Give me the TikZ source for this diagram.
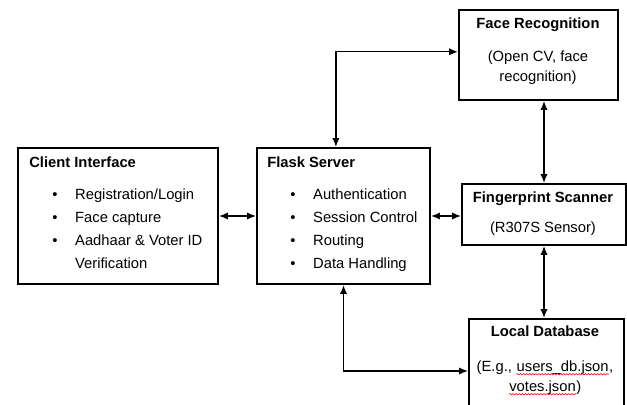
\documentclass[tikz,border=0pt]{standalone}
\usepackage{fontspec}
\setmainfont{Liberation Sans}
\usetikzlibrary{
    positioning,
    arrows.meta,
    decorations.pathmorphing
}
\tikzset{
    >=Latex,
    block/.style={
        draw,
        line width=1.4pt,
        inner sep=0pt,
        anchor=north west
    },
    heading/.style={
        font=\fontsize{10.5}{12.6}\selectfont\bfseries,
        inner sep=0pt
    },
    points/.style={
        font=\fontsize{10.5}{16.3}\selectfont,
        inner sep=0pt,
        anchor=base west
    },
    note/.style={
        font=\fontsize{10.5}{14.2}\selectfont,
        inner sep=0pt,
        anchor=base
    },
    link/.style={
        <->,
        line width=1pt,
        >={Latex[length=2.2mm,width=1.8mm]}
    },
    squiggle/.style={
        red,
        line width=0.4pt,
        decorate,
        decoration={snake, amplitude=0.5pt, segment length=2.2pt}
    }
}
\newcommand{\spell}[1]{%
    \tikz[baseline=(sp.base)]{%
        \node[inner sep=0pt] (sp) {#1};
        \draw[squiggle] ([yshift=-1.6pt]sp.base west) -- ([yshift=-1.6pt]sp.base east);}}

\begin{document}
\begin{tikzpicture}[x=0.025cm, y=-0.025cm]

    \useasboundingbox (0,0) rectangle (627,405);

    % Bloques
    \node[block, minimum width=5cm,     minimum height=3.4cm]  (client) at (17,147)  {};
    \node[block, minimum width=4.325cm, minimum height=3.4cm]  (flask)  at (256,147) {};
    \node[block, minimum width=3.975cm, minimum height=2.25cm] (face)   at (458,9)   {};
    \node[block, minimum width=4.1cm,   minimum height=1.525cm](finger) at (461,183) {};
    \node[block, minimum width=3.875cm, minimum height=2.6cm]  (db)     at (468,318) {};

    % Textos
    \node[heading, anchor=base west] (clientT) at (29,168)  {Client Interface};
    \node[points] (clientL) at (52,200) {%
        \begin{tabular}[t]{@{}l@{\hspace{12.6pt}}l@{}}
            \textbullet & Registration/Login\\
            \textbullet & Face capture\\
            \textbullet & Aadhaar \& Voter ID\\
                        & Verification
        \end{tabular}};

    \node[heading, anchor=base west] (flaskT) at (267,168) {Flask Server};
    \node[points] (flaskL) at (290,200) {%
        \begin{tabular}[t]{@{}l@{\hspace{12.6pt}}l@{}}
            \textbullet & Authentication\\
            \textbullet & Session Control\\
            \textbullet & Routing\\
            \textbullet & Data Handling
        \end{tabular}};

    \node[heading, anchor=base] (faceT) at (538,29) {Face Recognition};
    \node[note] (faceN) at (538,62) {%
        \begin{tabular}[t]{@{}c@{}}
            (Open CV, face\\
            recognition)
        \end{tabular}};

    \node[heading, anchor=base] (fingerT) at (543,203) {Fingerprint Scanner};
    \node[note] (fingerN) at (543,233) {(R307S Sensor)};

    \node[heading, anchor=base] (dbT) at (545,337) {Local Database};
    \node[note] (dbN) at (545,372) {%
        \begin{tabular}[t]{@{}c@{}}
            (E.g., \spell{users\_db.json},\\
            \spell{votes.json})
        \end{tabular}};

    % Conexiones
    \draw[link] (client.east) -- (flask.west);
    \draw[link] (flask.east) -- (flask.east -| finger.west);
    \draw[link] ([xshift=-0.19cm]flask.north) |- ([yshift=0.08cm]face.west);
    \draw[link] (face.south -| finger.north) -- (finger.north);
    \draw[link] (finger.south) -- (finger.south |- db.north);
    \draw[link] (flask.south) |- (db.west);

\end{tikzpicture}
\end{document}
